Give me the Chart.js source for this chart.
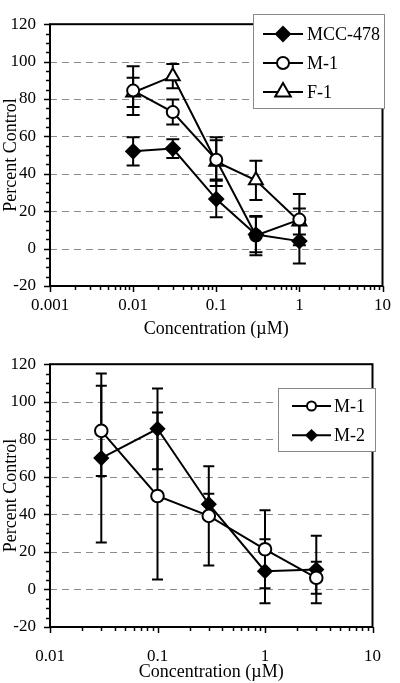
<!DOCTYPE html>
<html><head><meta charset="utf-8">
<script src="https://cdn.jsdelivr.net/npm/chart.js@4.4.1/dist/chart.umd.min.js"></script>
<style>
html,body{margin:0;padding:0;background:#fff;width:400px;height:683px;overflow:hidden}
canvas{position:absolute;left:0;display:block}
#c1{top:0}
#c2{top:340px}
</style></head><body>
<canvas id="c1" width="400" height="340"></canvas>
<canvas id="c2" width="400" height="343"></canvas>
<script>
// ---------- data ----------
const topConc = [0.01, 0.03, 0.1, 0.3, 1];
const mcc478 = [52, 53.5, 26.5, 7.5, 4];
const mcc478Err = [7.5, 5, 9.8, 9.5, 12];
const m1Top = [84.5, 73, 47.5, 7, 15.5];
const m1TopErr = [13, 6.7, 10.5, 10.5, 13.7];
const f1 = [83.5, 92.2, 46.5, 36.5, 14.5];
const f1Err = [7.8, 6.5, 13, 10.5, 7];

const botConc = [0.03, 0.1, 0.3, 1, 3];
const m1Bot = [84.5, 49.8, 39.2, 21.4, 6.2];
const m1BotErr = [24, 44.5, 26.5, 20.8, 8.5];
const m2 = [70, 85.6, 45.4, 9.7, 10.6];
const m2Err = [45, 21.5, 5.6, 17, 18];

const topXTicks = [0.001, 0.01, 0.1, 1, 10];
const botXTicks = [0.01, 0.1, 1, 10];
const yMinVal = -20, yMaxVal = 120, yStep = 20, yMinorStep = 5;

const yTitle = 'Percent Control';
const xTitle = 'Concentration (\u00b5M)';
// ---------- helpers ----------
const FONT = '"Liberation Serif", "Times New Roman", Times, serif';
const pts = (xs, ys) => xs.map((v, i) => ({x: v, y: ys[i]}));

function drawMarker(ctx, style, r, fill, x, y) {
  ctx.save();
  ctx.fillStyle = fill; ctx.strokeStyle = '#000'; ctx.lineWidth = 2;
  if (Chart.helpers && Chart.helpers.drawPoint) {
    Chart.helpers.drawPoint(ctx, {pointStyle: style, radius: r, rotation: 0, borderWidth: 2}, x, y);
  } else {
    ctx.beginPath(); ctx.arc(x, y, r, 0, Math.PI * 2); ctx.fill(); ctx.stroke();
  }
  ctx.restore();
}

const decor = {
  id: 'decor',
  beforeDatasetsDraw(chart, args, opts) {
    const {ctx, chartArea: a, scales: {x, y}} = chart;
    ctx.save();
    ctx.strokeStyle = '#8a8a8a'; ctx.lineWidth = 1; ctx.setLineDash([7, 5]);
    y.ticks.forEach(t => {
      if (t.value > y.min && t.value < y.max) {
        const py = Math.round(y.getPixelForValue(t.value)) + 0.5;
        ctx.beginPath(); ctx.moveTo(a.left, py); ctx.lineTo(a.right, py); ctx.stroke();
      }
    });
    ctx.setLineDash([]);
    ctx.strokeStyle = '#000'; ctx.lineWidth = 2;
    chart.data.datasets.forEach(ds => {
      ds.data.forEach((p, i) => {
        const e = ds.errors[i];
        const px = x.getPixelForValue(p.x);
        const yt = y.getPixelForValue(p.y + e), yb = y.getPixelForValue(p.y - e);
        ctx.beginPath();
        ctx.moveTo(px, yt); ctx.lineTo(px, yb);
        ctx.moveTo(px - opts.cap, yt); ctx.lineTo(px + opts.cap, yt);
        ctx.moveTo(px - opts.cap, yb); ctx.lineTo(px + opts.cap, yb);
        ctx.stroke();
      });
    });
    ctx.restore();
  },
  afterDatasetsDraw(chart, args, opts) {
    const {ctx, chartArea: a, scales: {x, y}} = chart;
    ctx.save();
    ctx.strokeStyle = '#000'; ctx.lineWidth = 1.5;
    // y ticks (outward)
    for (let v = y.min; v <= y.max + 1e-9; v += yMinorStep) {
      const py = Math.round(y.getPixelForValue(v)) + 0.5;
      const len = (Math.abs(v % yStep) < 1e-9) ? 6 : 4;
      ctx.beginPath(); ctx.moveTo(a.left - len, py); ctx.lineTo(a.left, py); ctx.stroke();
    }
    // x log ticks (downward)
    const e0 = Math.floor(Math.log10(x.min) + 1e-9), e1 = Math.ceil(Math.log10(x.max) - 1e-9);
    for (let e = e0; e <= e1; e++) {
      for (let k = 1; k <= 9; k++) {
        const v = k * Math.pow(10, e);
        if (v < x.min * 0.999 || v > x.max * 1.001) continue;
        const px = Math.round(x.getPixelForValue(v)) + 0.5;
        const len = k === 1 ? 6 : 4;
        ctx.beginPath(); ctx.moveTo(px, a.bottom); ctx.lineTo(px, a.bottom + len); ctx.stroke();
      }
    }
    // frame
    ctx.lineWidth = 2;
    ctx.strokeRect(a.left, a.top, a.right - a.left, a.bottom - a.top);
    // legend
    const L = opts.legend;
    ctx.fillStyle = '#fff';
    ctx.fillRect(L.box[0], L.box[1], L.box[2] - L.box[0], L.box[3] - L.box[1]);
    ctx.strokeStyle = '#888'; ctx.lineWidth = 1;
    ctx.strokeRect(L.box[0] + 0.5, L.box[1] + 0.5, L.box[2] - L.box[0], L.box[3] - L.box[1]);
    ctx.font = '18px ' + FONT;
    ctx.textBaseline = 'middle'; ctx.textAlign = 'left';
    chart.data.datasets.forEach((ds, i) => {
      const ry = L.rowY0 + i * L.rowGap;
      ctx.strokeStyle = '#000'; ctx.lineWidth = 2;
      ctx.beginPath(); ctx.moveTo(L.lineX[0], ry); ctx.lineTo(L.lineX[1], ry); ctx.stroke();
      drawMarker(ctx, ds.pointStyle, L.markerR[i], ds.pointBackgroundColor, (L.lineX[0] + L.lineX[1]) / 2, ry);
      ctx.fillStyle = '#000';
      ctx.fillText(ds.label, L.textX, ry + 1);
    });
    ctx.restore();
  }
};

function makeChart(canvasId, datasets, xMin, xMax, xTicks, lay) {
  return new Chart(document.getElementById(canvasId), {
    type: 'line',
    data: {datasets},
    options: {
      responsive: false, animation: false, events: [],
      layout: {padding: {left: 0, top: lay.top, right: lay.right, bottom: 0}},
      plugins: {legend: {display: false}, tooltip: {enabled: false}, decor: {cap: lay.cap, legend: lay.legend}},
      scales: {
        x: {
          type: 'logarithmic', min: xMin, max: xMax,
          afterBuildTicks: s => { s.ticks = xTicks.map(v => ({value: v, major: true})); },
          afterFit: s => { s.height = lay.xHeight; },
          grid: {display: false, drawTicks: false}, border: {display: false},
          ticks: {autoSkip: false, maxRotation: 0, padding: lay.xPad, color: '#000',
            font: {family: FONT, size: 17}, callback: v => String(v)},
          title: {display: true, text: xTitle, color: '#000', padding: 0, font: {family: FONT, size: 18}}
        },
        y: {
          min: yMinVal, max: yMaxVal,
          afterFit: s => { s.width = 50; },
          grid: {display: false, drawTicks: false}, border: {display: false},
          ticks: {stepSize: yStep, padding: 14, color: '#000', font: {family: FONT, size: 17}},
          title: {display: true, text: yTitle, color: '#000', padding: 0, font: {family: FONT, size: 18}}
        }
      }
    },
    plugins: [decor]
  });
}

const lineDefaults = {borderColor: '#000', borderWidth: 2, tension: 0, pointBorderColor: '#000', pointBorderWidth: 2};

makeChart('c1', [
  Object.assign({label: 'MCC-478', data: pts(topConc, mcc478), errors: mcc478Err,
    pointStyle: 'rectRot', pointRadius: 7, pointBackgroundColor: '#000'}, lineDefaults),
  Object.assign({label: 'M-1', data: pts(topConc, m1Top), errors: m1TopErr,
    pointStyle: 'circle', pointRadius: 6, pointBackgroundColor: '#fff'}, lineDefaults),
  Object.assign({label: 'F-1', data: pts(topConc, f1), errors: f1Err,
    pointStyle: 'triangle', pointRadius: 8, pointBackgroundColor: '#fff'}, lineDefaults)
], 0.001, 10, topXTicks, {
  top: 6, right: 11, xHeight: 54, xPad: 9, cap: 6.5,
  legend: {box: [253, 14, 384, 108], rowY0: 34, rowGap: 29, lineX: [263, 303], textX: 307, markerR: [7, 6, 9]}
});

makeChart('c2', [
  Object.assign({label: 'M-1', data: pts(botConc, m1Bot), errors: m1BotErr,
    pointStyle: 'circle', pointRadius: 6.3, pointBackgroundColor: '#fff'}, lineDefaults),
  Object.assign({label: 'M-2', data: pts(botConc, m2), errors: m2Err,
    pointStyle: 'rectRot', pointRadius: 6.7, pointBackgroundColor: '#000'}, lineDefaults)
], 0.01, 10, botXTicks, {
  top: 23.5, right: 9.3, xHeight: 56, xPad: 19, cap: 5.5,
  legend: {box: [278, 48, 375, 111], rowY0: 66, rowGap: 29.3, lineX: [292, 331], textX: 334, markerR: [4.5, 5]}
});
</script>
</body></html>
